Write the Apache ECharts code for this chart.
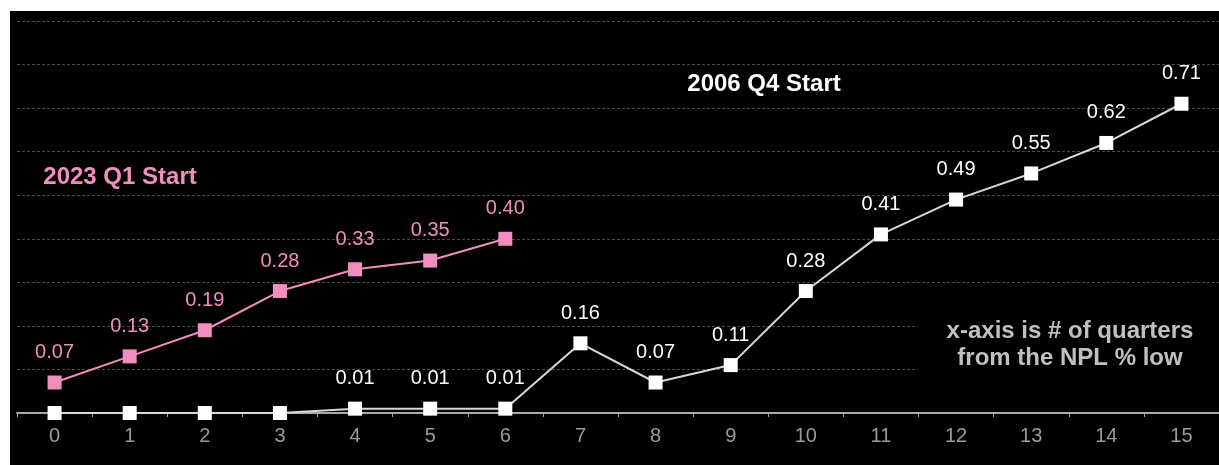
<!DOCTYPE html>
<html>
<head>
<meta charset="utf-8">
<script src="https://cdn.jsdelivr.net/npm/echarts@6/dist/echarts.min.js"></script>
<style>
  html, body { margin: 0; padding: 0; background: #ffffff; }
  #chart { position: absolute; left: 10px; top: 11px; width: 1209px; height: 454px; background: #000000; }
</style>
</head>
<body>
<div id="chart"></div>
<script>
// Quarters counted from the NPL % low
const quarters = ['0','1','2','3','4','5','6','7','8','9','10','11','12','13','14','15'];
// Cycle that began in 2006 Q4
const start2006Q4 = [0, 0, 0, 0, 0.01, 0.01, 0.01, 0.16, 0.07, 0.11, 0.28, 0.41, 0.49, 0.55, 0.62, 0.71];
// Cycle that began in 2023 Q1
const start2023Q1 = [0.07, 0.13, 0.19, 0.28, 0.33, 0.35, 0.40];

const FONT = '"Liberation Sans", Arial, sans-serif';
const PINK = '#f28dc0';

const chart = echarts.init(document.getElementById('chart'), null, { renderer: 'canvas' });

function pointLabel(color) {
  return {
    show: true,
    position: 'top',
    distance: 13,
    color: color,
    fontFamily: FONT,
    fontSize: 20,
    formatter: p => (p.value > 0 ? p.value.toFixed(2) : '')
  };
}

chart.setOption({
  backgroundColor: '#000000',
  animation: false,
  grid: { left: 7, right: 0, top: 10, bottom: 52 },
  xAxis: {
    type: 'category',
    data: quarters,
    boundaryGap: true,
    axisLine: { lineStyle: { color: '#a8a8a8', width: 2 } },
    axisTick: { show: true, length: 4, lineStyle: { color: '#a8a8a8', width: 1 } },
    axisLabel: { color: '#9a9a9a', fontFamily: FONT, fontSize: 20, margin: 13 },
    splitLine: { show: false }
  },
  yAxis: {
    type: 'value',
    min: 0,
    max: 0.9,
    interval: 0.1,
    axisLine: { show: false },
    axisTick: { show: false },
    axisLabel: { show: false },
    splitLine: { show: true, lineStyle: { color: '#4a4a4a', type: [3, 2], width: 1 } }
  },
  series: [
    {
      name: '2006 Q4 Start',
      type: 'line',
      data: start2006Q4,
      symbol: 'rect',
      symbolSize: 14,
      lineStyle: { color: '#d8d8d8', width: 2 },
      itemStyle: { color: '#ffffff' },
      label: pointLabel('#ffffff'),
      z: 3
    },
    {
      name: '2023 Q1 Start',
      type: 'line',
      data: start2023Q1,
      symbol: 'rect',
      symbolSize: 14,
      lineStyle: { color: PINK, width: 2 },
      itemStyle: { color: PINK },
      label: pointLabel(PINK),
      z: 4
    }
  ],
  graphic: [
    {
      type: 'rect',
      shape: { x: 908, y: 294, width: 301, height: 85 },
      style: { fill: '#000000' },
      z: 10
    },
    {
      type: 'text',
      x: 1060, y: 334,
      style: {
        text: 'x-axis is # of quarters\nfrom the NPL % low',
        font: 'bold 24px ' + FONT,
        fill: '#c0c0c0',
        align: 'center',
        verticalAlign: 'middle',
        lineHeight: 27
      },
      z: 11
    },
    {
      type: 'text',
      x: 754, y: 73,
      style: {
        text: '2006 Q4 Start',
        font: 'bold 24px ' + FONT,
        fill: '#ffffff',
        align: 'center',
        verticalAlign: 'middle'
      },
      z: 11
    },
    {
      type: 'text',
      x: 110, y: 166,
      style: {
        text: '2023 Q1 Start',
        font: 'bold 24px ' + FONT,
        fill: PINK,
        align: 'center',
        verticalAlign: 'middle'
      },
      z: 11
    }
  ]
});
</script>
</body>
</html>
